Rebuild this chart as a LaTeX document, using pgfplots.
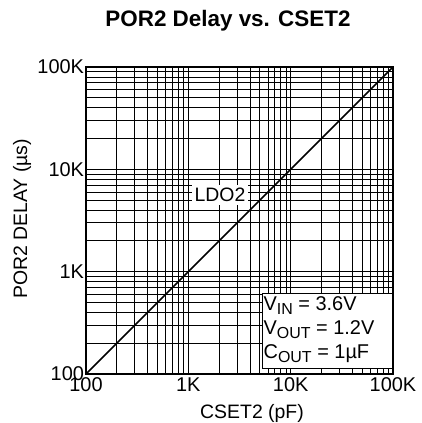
\documentclass[border=0pt]{standalone}
\usepackage{pgfplots}
\pgfplotsset{compat=1.18}
\usepackage{fontspec}
\setmainfont{Liberation Sans}
\newcommand{\sub}[1]{\raisebox{-0.22em}{\fontsize{16}{17}\selectfont #1}}
\begin{document}
\begin{tikzpicture}[x=1bp,y=1bp]
\begin{axis}[
  at={(86bp,49bp)}, anchor=south west,
  scale only axis, width=307bp, height=307bp,
  xmode=log, ymode=log,
  xmin=100, xmax=100000, ymin=100, ymax=100000,
  xtick={100,1000,10000,100000}, xticklabels={100,1K,10K,100K},
  ytick={100,1000,10000,100000}, yticklabels={100,1K,10K,100K},
  /pgf/number format/assume math mode=true,
  grid=both,
  major grid style={black, line width=0.8bp},
  minor grid style={black, line width=0.8bp},
  tick align=inside,
  major tick length=5bp, minor tick length=5bp,
  tick style={black, line width=0.8bp},
  axis line style={line width=1.6bp},
  ticklabel style={font=\fontsize{20}{23}\selectfont},
  xticklabel style={yshift=-0.5bp},
  yticklabel style={xshift=1.5bp},
  clip=false,
]
\addplot[black, line width=1.6bp] coordinates {(100,100) (100000,100000)};
\node[fill=white, inner xsep=2.5bp, inner ysep=3bp, font=\fontsize{19.5}{22}\selectfont] at (axis cs:2040,5610) {LDO2};
\end{axis}
\draw[fill=white, line width=0.9bp] (262,423-368) rectangle (392,423-293);
\node[anchor=base west, inner sep=0pt, font=\fontsize{20}{22}\selectfont] at (263.5,423-310) {V\sub{IN} = 3.6V};
\node[anchor=base west, inner sep=0pt, font=\fontsize{20}{22}\selectfont] at (263.5,423-334) {V\sub{OUT} = 1.2V};
\node[anchor=base west, inner sep=0pt, font=\fontsize{20}{22}\selectfont] at (263.5,423-358) {C\sub{OUT} = 1µF};
\node[anchor=base, inner sep=0pt, font=\fontsize{22.5}{25}\bfseries] at (228,423-27) {POR2 Delay vs. CSET2};
\node[anchor=base, inner sep=0pt, rotate=90, font=\fontsize{19.5}{22}\selectfont] at (27,423-219) {POR2 DELAY (µs)};
\node[anchor=base, inner sep=0pt, font=\fontsize{19.5}{22}\selectfont] at (252,423-418) {CSET2 (pF)};
\pgfresetboundingbox
\useasboundingbox (0,0) rectangle (422,423);
\end{tikzpicture}
\end{document}
